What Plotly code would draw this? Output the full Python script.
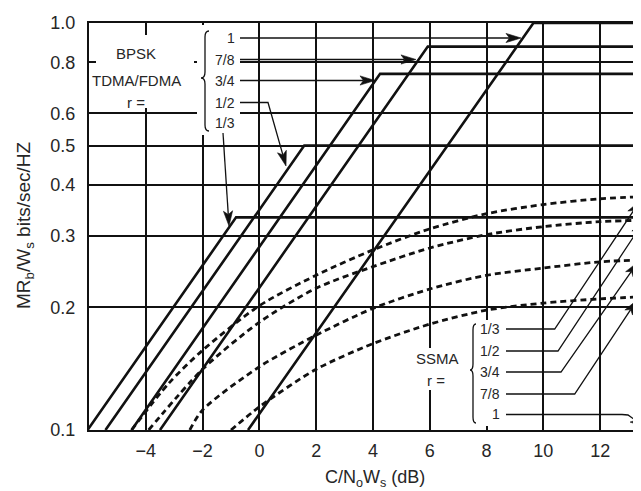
import plotly.graph_objects as go
import math

# ---------------- data ----------------
# x axis: C/NoWs in dB ; y axis: MRb/Ws bits/sec/Hz (log scale)
x_ticks = [-4, -2, 0, 2, 4, 6, 8, 10, 12]
x_tick_labels = ["\u22124", "\u22122", "0", "2", "4", "6", "8", "10", "12"]
y_ticks = [0.1, 0.2, 0.3, 0.4, 0.5, 0.6, 0.8, 1.0]
y_tick_labels = ["0.1", "0.2", "0.3", "0.4", "0.5", "0.6", "0.8", "1.0"]

# BPSK TDMA/FDMA (solid lines): start, corner, end
tdma_r1_x = [-0.4, 9.65, 13.8]
tdma_r1_y = [0.1, 1.0, 1.0]
tdma_r78_x = [-3.5, 5.93, 13.8]
tdma_r78_y = [0.1, 0.875, 0.875]
tdma_r34_x = [-4.5, 4.25, 13.8]
tdma_r34_y = [0.1, 0.75, 0.75]
tdma_r12_x = [-5.42, 1.58, 13.8]
tdma_r12_y = [0.1, 0.5, 0.5]
tdma_r13_x = [-6.05, -0.82, 13.8]
tdma_r13_y = [0.1, 0.333, 0.333]

# SSMA (dashed curves)
ssma_r13_x = [-4.5, -3.2, -2, 0, 2, 4, 6, 8, 10, 12, 13.8]
ssma_r13_y = [0.1, 0.13, 0.157, 0.202, 0.24, 0.277, 0.312, 0.34, 0.358, 0.37, 0.375]
ssma_r12_x = [-3.9, -2, 0, 2, 4, 6, 8, 10, 12, 13.8]
ssma_r12_y = [0.1, 0.141, 0.184, 0.223, 0.252, 0.28, 0.302, 0.316, 0.325, 0.328]
ssma_r34_x = [-2.45, -2, 0, 2, 4, 6, 8, 10, 12, 13.8]
ssma_r34_y = [0.1, 0.112, 0.143, 0.171, 0.199, 0.222, 0.24, 0.25, 0.259, 0.262]
ssma_r78_x = [-1.0, 0, 2, 4, 6, 8, 10, 12, 13.8]
ssma_r78_y = [0.1, 0.114, 0.141, 0.163, 0.182, 0.197, 0.205, 0.21, 0.213]

# ---------------- layout geometry ----------------
FIG_W, FIG_H = 641, 491
L, R, T, B = 81, 641, 15, 422
PW, PH = R - L, B - T
FONT = "Liberation Sans, Arial, sans-serif"
INK = "#111111"
TXT = "#262626"


def px(x):
    return (x - L) / PW


def py(y):
    return (B - y) / PH


fig = go.Figure()

solid = dict(color=INK, width=2.6)
for xs, ys in [(tdma_r1_x, tdma_r1_y), (tdma_r78_x, tdma_r78_y), (tdma_r34_x, tdma_r34_y),
               (tdma_r12_x, tdma_r12_y), (tdma_r13_x, tdma_r13_y)]:
    fig.add_trace(go.Scatter(x=xs, y=ys, mode="lines", line=solid, showlegend=False,
                             hoverinfo="skip"))

dashed = dict(color=INK, width=2.8, dash="6px,4px", shape="spline", smoothing=0.8)
for xs, ys in [(ssma_r13_x, ssma_r13_y), (ssma_r12_x, ssma_r12_y),
               (ssma_r34_x, ssma_r34_y), (ssma_r78_x, ssma_r78_y)]:
    fig.add_trace(go.Scatter(x=xs, y=ys, mode="lines", line=dashed, showlegend=False,
                             hoverinfo="skip"))

shapes = []
annotations = []


def P(a, b):
    return f"{px(a):.5f},{py(b):.5f}"


def white_box(x0, y0, x1, y1):
    shapes.append(dict(type="rect", xref="paper", yref="paper", x0=px(x0), x1=px(x1),
                       y0=py(y1), y1=py(y0), fillcolor="white", line=dict(width=0),
                       layer="above"))


def polyline(pts, width=1.3):
    d = "M " + " L ".join(P(a, b) for a, b in pts)
    shapes.append(dict(type="path", xref="paper", yref="paper", path=d,
                       line=dict(color=INK, width=width), layer="above"))


def arrow(tail, tip, head_len=15, half_w=4.6, notch=11.5, pre=None):
    dx, dy = tip[0] - tail[0], tip[1] - tail[1]
    n = math.hypot(dx, dy)
    ux, uy = dx / n, dy / n
    vx, vy = -uy, ux
    npt = (tip[0] - ux * notch, tip[1] - uy * notch)
    bx, by = tip[0] - ux * head_len, tip[1] - uy * head_len
    left = (bx + vx * half_w, by + vy * half_w)
    right = (bx - vx * half_w, by - vy * half_w)
    pts = (pre or []) + [tail, npt]
    polyline(pts)
    d = f"M {P(*tip)} L {P(*left)} L {P(*npt)} L {P(*right)} Z"
    shapes.append(dict(type="path", xref="paper", yref="paper", path=d,
                       fillcolor=INK, line=dict(color=INK, width=0.6), layer="above"))


def brace(x_right, x_tip, y_top, y_bot, y_mid):
    xm = (x_right + x_tip) / 2
    r = 6
    d = (f"M {P(x_right, y_top)} Q {P(xm, y_top)} {P(xm, y_top + r)} "
         f"L {P(xm, y_mid - r)} Q {P(xm, y_mid)} {P(x_tip, y_mid)} "
         f"Q {P(xm, y_mid)} {P(xm, y_mid + r)} "
         f"L {P(xm, y_bot - r)} Q {P(xm, y_bot)} {P(x_right, y_bot)}")
    shapes.append(dict(type="path", xref="paper", yref="paper", path=d,
                       line=dict(color=INK, width=1.3), layer="above"))


def text(x, y, s, size=15, anchor="center"):
    annotations.append(dict(x=px(x), y=py(y), xref="paper", yref="paper", text=s,
                            showarrow=False, xanchor=anchor, yanchor="middle",
                            font=dict(family=FONT, size=size, color=TXT)))


# white backgrounds behind the text blocks
white_box(88, 27, 186, 100)
white_box(189, 17, 232, 127)
white_box(405, 340, 455, 382)
white_box(466, 312, 500, 418)

# BPSK TDMA/FDMA block
text(128, 45, "BPSK")
text(128, 72, "TDMA/FDMA")
text(128, 95, "r =")
brace(201, 193, 23, 123, 70)
for lab, yy in [("1", 30), ("7/8", 52), ("3/4", 73), ("1/2", 95), ("1/3", 115)]:
    text(229, yy, lab, size=14, anchor="right")
arrow((232, 30), (513, 30))
arrow((232, 51.5), (408, 51.5))
arrow((232, 72.5), (367, 72.5))
arrow((260, 94.5), (278, 158), pre=[(232, 94.5)])
arrow((215, 125), (221, 218))

# SSMA block
text(429, 350, "SSMA")
text(428, 372, "r =")
brace(468, 462, 316, 415, 362)
for lab, yy in [("1/3", 321), ("1/2", 343), ("3/4", 364), ("7/8", 386), ("1", 406)]:
    text(494, yy, lab, size=14, anchor="right")
arrow((546.7, 321), (632, 193), pre=[(498, 321)])
arrow((550, 343), (636, 213), pre=[(498, 343)])
arrow((553, 364), (630, 254), pre=[(498, 364)])
arrow((566.7, 386), (629, 292), pre=[(498, 386)])
arrow((620, 407), (637, 419), pre=[(498, 406.5), (614, 406.5)])

# axis titles
annotations.append(dict(x=px(17), y=py(217), xref="paper", yref="paper",
                        text="MR<sub>b</sub>/W<sub>s</sub> bits/sec/HZ", textangle=-90,
                        showarrow=False, xanchor="center", yanchor="middle",
                        font=dict(family=FONT, size=19, color=TXT)))
annotations.append(dict(x=px(367), y=py(470), xref="paper", yref="paper",
                        text="C/N<sub>o</sub>W<sub>s</sub> (dB)",
                        showarrow=False, xanchor="center", yanchor="middle",
                        font=dict(family=FONT, size=18, color=TXT)))

fig.update_layout(
    width=FIG_W, height=FIG_H,
    margin=dict(l=L, r=FIG_W - R, t=T, b=FIG_H - B, autoexpand=False),
    paper_bgcolor="white", plot_bgcolor="white",
    showlegend=False,
    shapes=shapes, annotations=annotations,
    font=dict(family=FONT, size=16, color=TXT),
)
fig.update_xaxes(range=[-6, 13.72], tickmode="array", tickvals=x_ticks,
                 ticktext=x_tick_labels,
                 showgrid=True, gridcolor="#111111", gridwidth=1.5,
                 showline=True, linecolor=INK, linewidth=2, mirror=True,
                 zeroline=False, ticks="", ticklabelstandoff=3,
                 tickfont=dict(family=FONT, size=18, color=TXT))
fig.update_yaxes(type="log", range=[-1, 0], tickmode="array", tickvals=y_ticks,
                 ticktext=y_tick_labels,
                 showgrid=True, gridcolor="#111111", gridwidth=1.5,
                 showline=True, linecolor=INK, linewidth=2,
                 zeroline=False, ticks="", ticklabelstandoff=8,
                 tickfont=dict(family=FONT, size=18, color=TXT))

fig.write_html("out.html")
